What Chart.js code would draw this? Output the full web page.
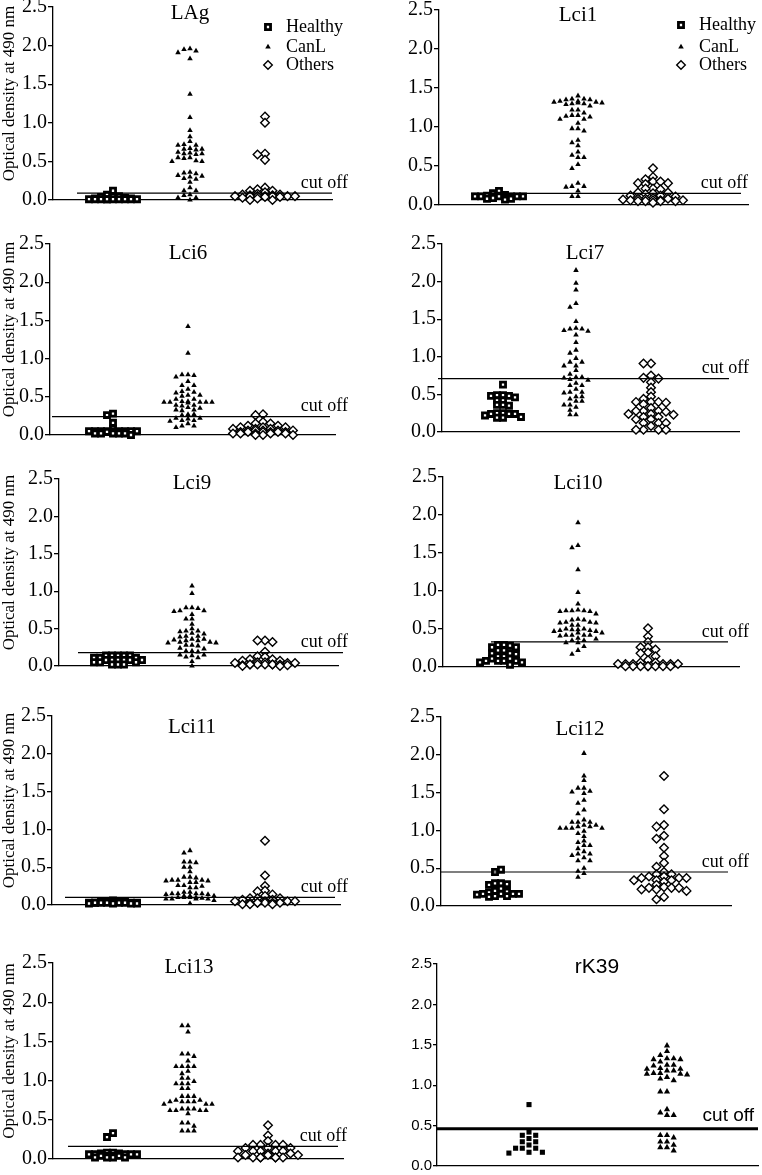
<!DOCTYPE html>
<html>
<head>
<meta charset="utf-8">
<script src="https://cdn.jsdelivr.net/npm/chart.js@4.4.1/dist/chart.umd.min.js"></script>
<style>
  body { margin: 0; background: #fff; }
  #page { position: relative; width: 762px; height: 1175px; overflow: hidden; background: #fff; }
  #page canvas { position: absolute; }
</style>
</head>
<body>
<div id="page"></div>
<script>
// ---- data (optical density at 490 nm) ----
const groups = ['Healthy', 'CanL', 'Others'];
const panelNames = ['LAg', 'Lci1', 'Lci6', 'Lci7', 'Lci9', 'Lci10', 'Lci11', 'Lci12', 'Lci13', 'rK39'];
const cutoffs = [0.09, 0.15, 0.24, 0.71, 0.18, 0.33, 0.10, 0.45, 0.16, 0.46];
const yTicks = [0, 0.5, 1.0, 1.5, 2.0, 2.5];
const yTitle = 'Optical density at 490 nm';

const lagHealthy = [0.12,0.07,0.05,0.05,0.04,0.03,0.02,0.02,0.01,0.01,0.01,0.01,0.01,0.01,0.01,0.01,0.01,0.01];
const lagCanL = [1.96,1.95,1.93,1.91,1.83,1.37,1.07,0.90,0.82,0.76,0.72,0.71,0.71,0.67,0.66,0.66,0.65,0.62,0.61,0.60,0.60,0.59,0.55,0.55,0.54,0.51,0.50,0.50,0.36,0.35,0.34,0.32,0.31,0.30,0.28,0.27,0.23,0.16,0.12,0.12,0.07,0.06,0.03,0.03,0.00];
const lagOthers = [1.08,1.00,0.60,0.59,0.52,0.16,0.14,0.12,0.12,0.10,0.08,0.07,0.07,0.06,0.06,0.05,0.05,0.05,0.05,0.05,0.05,0.05,0.04,0.04,0.03,0.02,0.00,0.00];

const lci1Healthy = [0.18,0.15,0.13,0.12,0.12,0.11,0.11,0.11,0.11,0.11,0.11,0.11,0.10,0.09,0.08,0.08,0.07];
const lci1CanL = [1.40,1.36,1.36,1.35,1.35,1.33,1.33,1.32,1.32,1.31,1.31,1.30,1.30,1.29,1.27,1.22,1.22,1.18,1.15,1.15,1.14,1.13,1.10,1.10,1.05,0.98,0.98,0.95,0.83,0.80,0.76,0.68,0.64,0.61,0.61,0.52,0.47,0.28,0.24,0.24,0.23,0.18,0.11,0.11];
const lci1Others = [0.47,0.36,0.33,0.30,0.30,0.28,0.28,0.27,0.21,0.21,0.20,0.16,0.16,0.15,0.14,0.12,0.12,0.11,0.09,0.08,0.08,0.08,0.07,0.06,0.06,0.06,0.06,0.05,0.05,0.05,0.05,0.03];

const lci6Healthy = [0.28,0.26,0.16,0.08,0.05,0.05,0.05,0.05,0.05,0.05,0.05,0.05,0.04,0.04,0.02,0.02,0.02,0.02,0.02,0.00];
const lci6CanL = [1.42,1.07,0.79,0.79,0.78,0.76,0.70,0.65,0.65,0.60,0.57,0.56,0.55,0.52,0.52,0.51,0.47,0.47,0.44,0.44,0.43,0.43,0.43,0.43,0.43,0.42,0.39,0.39,0.38,0.36,0.35,0.33,0.33,0.32,0.27,0.27,0.26,0.22,0.22,0.21,0.19,0.19,0.18,0.15,0.12,0.12,0.10];
const lci6Others = [0.27,0.26,0.17,0.15,0.15,0.12,0.12,0.10,0.10,0.10,0.08,0.08,0.08,0.06,0.06,0.06,0.06,0.06,0.04,0.04,0.04,0.04,0.04,0.04,0.02,0.02,0.02,0.02,0.02,0.00,0.00,0.00];

const lci7Healthy = [0.63,0.49,0.49,0.48,0.48,0.46,0.42,0.42,0.36,0.36,0.35,0.25,0.25,0.24,0.24,0.24,0.22,0.20,0.19,0.19];
const lci7CanL = [2.15,1.98,1.89,1.71,1.66,1.47,1.38,1.37,1.37,1.35,1.34,1.29,1.19,1.09,1.05,0.98,0.93,0.93,0.88,0.88,0.82,0.77,0.73,0.73,0.72,0.70,0.69,0.65,0.62,0.62,0.57,0.53,0.53,0.52,0.47,0.47,0.44,0.41,0.41,0.36,0.36,0.33,0.29,0.23,0.23];
const lci7Others = [0.91,0.91,0.75,0.72,0.71,0.66,0.59,0.53,0.47,0.44,0.40,0.40,0.40,0.39,0.37,0.32,0.28,0.28,0.28,0.27,0.24,0.24,0.23,0.20,0.20,0.17,0.17,0.12,0.12,0.12,0.08,0.03,0.03,0.03,0.03];

const lci9Healthy = [0.14,0.14,0.14,0.14,0.14,0.11,0.11,0.11,0.08,0.08,0.08,0.08,0.08,0.08,0.05,0.05,0.05,0.02,0.02,0.02];
const lci9CanL = [1.07,0.97,0.78,0.78,0.77,0.74,0.74,0.73,0.69,0.63,0.63,0.56,0.50,0.47,0.47,0.46,0.44,0.43,0.40,0.40,0.39,0.36,0.36,0.35,0.34,0.34,0.32,0.32,0.31,0.31,0.28,0.28,0.27,0.24,0.23,0.20,0.20,0.19,0.15,0.15,0.14,0.12,0.11,0.06,0.00];
const lci9Others = [0.34,0.34,0.32,0.19,0.13,0.12,0.09,0.09,0.07,0.07,0.05,0.05,0.04,0.04,0.04,0.02,0.02,0.02,0.02,0.02,0.02,0.02,0.01,0.01,0.00,0.00];

const lci10Healthy = [0.29,0.29,0.28,0.26,0.26,0.22,0.22,0.18,0.18,0.17,0.14,0.14,0.11,0.11,0.08,0.08,0.08,0.08,0.06,0.06,0.03];
const lci10CanL = [1.90,1.60,1.57,1.28,0.98,0.83,0.75,0.74,0.74,0.74,0.73,0.73,0.70,0.63,0.62,0.62,0.59,0.59,0.58,0.58,0.55,0.55,0.50,0.50,0.49,0.49,0.48,0.48,0.47,0.47,0.45,0.45,0.42,0.42,0.42,0.42,0.41,0.38,0.37,0.35,0.35,0.32,0.32,0.27,0.22,0.17];
const lci10Others = [0.51,0.40,0.33,0.26,0.26,0.23,0.19,0.18,0.14,0.09,0.06,0.06,0.04,0.04,0.04,0.04,0.04,0.04,0.01,0.01,0.01,0.01,0.01,0.01,0.01,0.01];

const lci11Healthy = [0.06,0.05,0.05,0.04,0.04,0.03,0.03,0.03,0.03,0.03,0.03,0.03,0.03,0.03,0.03,0.02,0.02,0.02,0.02];
const lci11CanL = [0.72,0.69,0.57,0.57,0.56,0.50,0.50,0.44,0.37,0.37,0.36,0.33,0.33,0.33,0.32,0.32,0.30,0.30,0.26,0.26,0.25,0.23,0.23,0.17,0.17,0.15,0.15,0.15,0.15,0.14,0.14,0.12,0.12,0.12,0.10,0.10,0.10,0.10,0.09,0.08,0.08,0.08,0.08,0.06,0.02];
const lci11Others = [0.85,0.39,0.25,0.19,0.18,0.14,0.12,0.09,0.09,0.09,0.07,0.07,0.05,0.05,0.05,0.05,0.03,0.03,0.03,0.03,0.03,0.03,0.01,0.01,0.01];

const lci12Healthy = [0.48,0.45,0.30,0.30,0.29,0.28,0.23,0.20,0.19,0.18,0.16,0.16,0.16,0.16,0.15,0.13,0.13,0.12];
const lci12CanL = [2.02,1.72,1.66,1.56,1.56,1.52,1.51,1.49,1.40,1.36,1.27,1.22,1.14,1.11,1.11,1.11,1.07,1.07,1.05,1.05,1.03,1.03,1.03,1.03,0.99,0.96,0.92,0.86,0.84,0.80,0.80,0.76,0.72,0.69,0.69,0.67,0.64,0.60,0.60,0.50,0.46,0.43,0.38];
const lci12Others = [1.72,1.28,1.07,1.05,0.93,0.89,0.77,0.66,0.57,0.52,0.45,0.42,0.42,0.39,0.39,0.37,0.37,0.37,0.34,0.34,0.34,0.32,0.28,0.25,0.24,0.24,0.24,0.22,0.22,0.20,0.12,0.09];

const lci13Healthy = [0.33,0.28,0.08,0.08,0.07,0.07,0.06,0.06,0.06,0.06,0.06,0.04,0.04,0.04,0.04,0.02,0.02,0.02,0.02];
const lci13CanL = [1.70,1.70,1.62,1.34,1.34,1.31,1.25,1.18,1.18,1.18,1.18,1.12,1.09,1.03,1.03,0.99,0.96,0.96,0.96,0.90,0.90,0.80,0.80,0.80,0.75,0.75,0.73,0.73,0.73,0.73,0.70,0.70,0.70,0.64,0.64,0.64,0.62,0.62,0.62,0.62,0.58,0.46,0.46,0.42,0.36,0.36,0.36];
const lci13Others = [0.43,0.30,0.23,0.18,0.18,0.18,0.18,0.14,0.14,0.14,0.10,0.10,0.10,0.10,0.10,0.07,0.07,0.05,0.05,0.05,0.02,0.02,0.02,0.02,0.02,0.02,0.02];

const rk39Healthy = [0.76,0.42,0.38,0.38,0.34,0.30,0.30,0.26,0.22,0.22,0.22,0.17,0.17,0.16];
const rk39CanL = [1.49,1.42,1.37,1.33,1.33,1.32,1.32,1.29,1.25,1.25,1.24,1.21,1.20,1.20,1.18,1.18,1.15,1.15,1.14,1.14,1.13,1.10,1.08,1.06,0.92,0.92,0.70,0.66,0.63,0.63,0.38,0.38,0.35,0.30,0.30,0.26,0.23,0.23,0.19];

const panelValues = [
  [lagHealthy, lagCanL, lagOthers],
  [lci1Healthy, lci1CanL, lci1Others],
  [lci6Healthy, lci6CanL, lci6Others],
  [lci7Healthy, lci7CanL, lci7Others],
  [lci9Healthy, lci9CanL, lci9Others],
  [lci10Healthy, lci10CanL, lci10Others],
  [lci11Healthy, lci11CanL, lci11Others],
  [lci12Healthy, lci12CanL, lci12Others],
  [lci13Healthy, lci13CanL, lci13Others],
  [rk39Healthy, rk39CanL]
];

// ---- page layout (pixels on the page) ----
const layout = [
  {col: 0,   axisX: 53,  xEnd: 332, yTop: 7,   yBot: 200,  centers: [113, 190, 265], cut: [77, 332],  titleX: 190, titleY: 13,  labelRight: 348, legend: {x: 268, ys: [27, 47, 65]}},
  {col: 381, axisX: 439, xEnd: 748, yTop: 10,  yBot: 205,  centers: [499, 578, 653], cut: [471, 741], titleX: 578, titleY: 15,  labelRight: 748, legend: {x: 681, ys: [25, 47, 65]}},
  {col: 0,   axisX: 50,  xEnd: 335, yTop: 244, yBot: 435,  centers: [113, 188, 263], cut: [52, 330],  titleX: 188, titleY: 253, labelRight: 348},
  {col: 381, axisX: 442, xEnd: 739, yTop: 244, yBot: 432,  centers: [503, 576, 651], cut: [438, 729], titleX: 585, titleY: 253, labelRight: 749},
  {col: 0,   axisX: 59,  xEnd: 338, yTop: 479, yBot: 666,  centers: [118, 192, 265], cut: [78, 343],  titleX: 192, titleY: 483, labelRight: 348},
  {col: 381, axisX: 443, xEnd: 739, yTop: 477, yBot: 667,  centers: [504, 578, 648], cut: [491, 728], titleX: 578, titleY: 483, labelRight: 749},
  {col: 0,   axisX: 52,  xEnd: 340, yTop: 716, yBot: 905,  centers: [113, 190, 265], cut: [65, 335],  titleX: 192, titleY: 727, labelRight: 348},
  {col: 381, axisX: 441, xEnd: 731, yTop: 717, yBot: 906,  centers: [501, 584, 664], cut: [441, 728], titleX: 580, titleY: 729, labelRight: 749},
  {col: 0,   axisX: 53,  xEnd: 343, yTop: 963, yBot: 1159, centers: [113, 188, 268], cut: [68, 338],  titleX: 189, titleY: 967, labelRight: 347},
  {col: 381, axisX: 437, xEnd: 758, yTop: 964, yBot: 1166, centers: [529, 667],      cut: [437, 758], titleX: 597, titleY: 967, labelRight: 754}
];

const SERIF = "'Liberation Serif', 'Times New Roman', serif";
const SANS = "'Liberation Sans', Arial, sans-serif";

// marker styles; swarm spacing in px (step, collision box sx/sy, max half width)
const markerStyles = [
  {pointStyle: 'rect', radius: 3.6, border: 2.8, fill: '#fff', step: 6, sx: 5.5, sy: 4, half: 27},
  {pointStyle: 'triangle', radius: 3.2, border: 0, fill: '#000', step: 6, sx: 5, sy: 4, half: 26},
  {pointStyle: 'rectRot', radius: 4.3, border: 1.4, fill: '#fff', step: 7.5, sx: 7, sy: 4.5, half: 31}
];
const rkStyles = [
  {pointStyle: 'rect', radius: 3.6, border: 0, fill: '#000', step: 6.7, sx: 6, sy: 6, half: 27},
  {pointStyle: 'triangle', radius: 3.6, border: 0, fill: '#000', step: 6.7, sx: 6, sy: 4.5, half: 27}
];

// column scatter: spread points sideways, balanced left/right, within a max width
function swarm(values, gx, ppu, pxY, st) {
  const placed = [];
  const sorted = values.slice().sort((a, b) => b - a);
  return sorted.map(v => {
    const py = v * pxY;
    const near = placed.filter(p => Math.abs(p.py - py) < st.sy);
    const hitsAt = off => near.filter(p => Math.abs(p.px - off) < st.sx).length;
    const leftN = near.filter(p => p.px < 0).length;
    const rightN = near.filter(p => p.px > 0).length;
    let best = 0, bestHits = Infinity;
    for (let m = 0; m * st.step <= st.half + 0.01 && bestHits > 0; m++) {
      const cands = m === 0 ? [0] : (leftN <= rightN ? [-m * st.step, m * st.step] : [m * st.step, -m * st.step]);
      for (const off of cands) {
        const h = hitsAt(off);
        if (h < bestHits) { best = off; bestHits = h; }
        if (h === 0) break;
      }
    }
    placed.push({px: best, py: py});
    return {x: gx + best / ppu, y: v};
  });
}

const panelDecor = {
  id: 'panelDecor',
  afterDraw(chart, args, o) {
    const ctx = chart.ctx;
    const ys = chart.scales.y;
    const a = chart.chartArea;
    ctx.save();
    const cy = ys.getPixelForValue(o.cutoff);
    ctx.strokeStyle = '#000';
    ctx.lineWidth = o.cutWidth;
    ctx.beginPath();
    ctx.moveTo(o.cutFrom, cy);
    ctx.lineTo(o.cutTo, cy);
    ctx.stroke();

    ctx.fillStyle = '#000';
    ctx.textBaseline = 'middle';
    ctx.textAlign = 'right';
    ctx.font = o.cutFont;
    ctx.fillText('cut off', o.labelRight, cy - o.labelDy);

    ctx.textAlign = 'center';
    ctx.font = o.titleFont;
    ctx.fillText(o.title, o.titleX, o.titleY);

    if (o.yTitle) {
      ctx.save();
      ctx.translate(10, (a.top + a.bottom) / 2 - 10);
      ctx.rotate(-Math.PI / 2);
      ctx.font = '17px ' + SERIF;
      ctx.fillText(o.yTitle, 0, 0);
      ctx.restore();
    }

    if (o.legend) {
      ctx.textAlign = 'left';
      ctx.font = o.legendFont;
      chart.data.datasets.forEach((ds, j) => {
        const y = o.legend.ys[j];
        ctx.fillStyle = ds.pointBackgroundColor;
        ctx.strokeStyle = '#000';
        ctx.lineWidth = ds.pointBorderWidth;
        Chart.helpers.drawPoint(ctx, {pointStyle: ds.pointStyle, radius: ds.pointRadius, borderWidth: ds.pointBorderWidth, rotation: 0}, o.legend.x, y);
        ctx.fillStyle = '#000';
        ctx.fillText(ds.label, o.legend.x + 18, y);
      });
    }
    ctx.restore();
  }
};

const page = document.getElementById('page');

panelNames.forEach((name, i) => {
  const L = layout[i];
  const rk = name === 'rK39';
  const padT = 30, padB = 25, W = 381;
  const H = L.yBot - L.yTop + padT + padB;
  const top = L.yTop - padT;
  const cv = document.createElement('canvas');
  cv.width = W; cv.height = H;
  cv.style.left = L.col + 'px';
  cv.style.top = top + 'px';
  page.appendChild(cv);

  const nC = L.centers.length;
  const ppu = (L.centers[nC - 1] - L.centers[0]) / (nC - 1);
  const xMin = 1 - (L.centers[0] - L.axisX) / ppu;
  const xMax = xMin + (L.xEnd - L.axisX) / ppu;
  const pxY = (L.yBot - L.yTop) / 2.5;
  const styles = rk ? rkStyles : markerStyles;

  const datasets = panelValues[i].map((vals, j) => {
    const st = styles[j];
    const gx = 1 + (L.centers[j] - L.centers[0]) / ppu;
    return {
      label: groups[j],
      data: swarm(vals, gx, ppu, pxY, st),
      pointStyle: st.pointStyle,
      pointRadius: st.radius,
      pointBorderWidth: st.border,
      pointBackgroundColor: st.fill,
      pointBorderColor: '#000',
      showLine: false,
      clip: false
    };
  });

  const tickFont = rk ? {family: SANS, size: 15} : {family: SERIF, size: 20};

  new Chart(cv.getContext('2d'), {
    type: 'scatter',
    data: {datasets: datasets},
    options: {
      responsive: false,
      animation: false,
      events: [],
      layout: {padding: {top: padT, bottom: padB, left: 0, right: W - (L.xEnd - L.col)}},
      plugins: {
        legend: {display: false},
        tooltip: {enabled: false},
        panelDecor: {
          cutoff: cutoffs[i],
          cutFrom: L.cut[0] - L.col,
          cutTo: L.cut[1] - L.col,
          cutWidth: rk ? 3 : 1.2,
          cutFont: rk ? '19px ' + SANS : '18px ' + SERIF,
          labelRight: L.labelRight - L.col,
          labelDy: rk ? 13 : 10,
          title: name,
          titleFont: rk ? '21px ' + SANS : '21px ' + SERIF,
          titleX: L.titleX - L.col,
          titleY: L.titleY - top,
          yTitle: L.col === 0 ? yTitle : null,
          legend: L.legend ? {x: L.legend.x - L.col, ys: L.legend.ys.map(y => y - top)} : null,
          legendFont: '18px ' + SERIF
        }
      },
      scales: {
        x: {
          type: 'linear',
          min: xMin,
          max: xMax,
          ticks: {display: false},
          grid: {display: true, drawOnChartArea: false, drawTicks: false, color: '#000'},
          border: {color: '#000', width: 1.3},
          afterFit: s => { s.height = 0; }
        },
        y: {
          min: 0,
          max: 2.5,
          afterBuildTicks: s => { s.ticks = yTicks.map(v => ({value: v})); },
          ticks: {color: '#000', padding: 1, font: tickFont, callback: v => Number(v).toFixed(1)},
          grid: {drawOnChartArea: false, drawTicks: true, tickLength: rk ? 4 : 5, color: '#000', lineWidth: 1.3},
          border: {color: '#000', width: 1.3},
          afterFit: s => { s.width = L.axisX - L.col; }
        }
      }
    },
    plugins: [panelDecor]
  });
});
</script>
</body>
</html>
